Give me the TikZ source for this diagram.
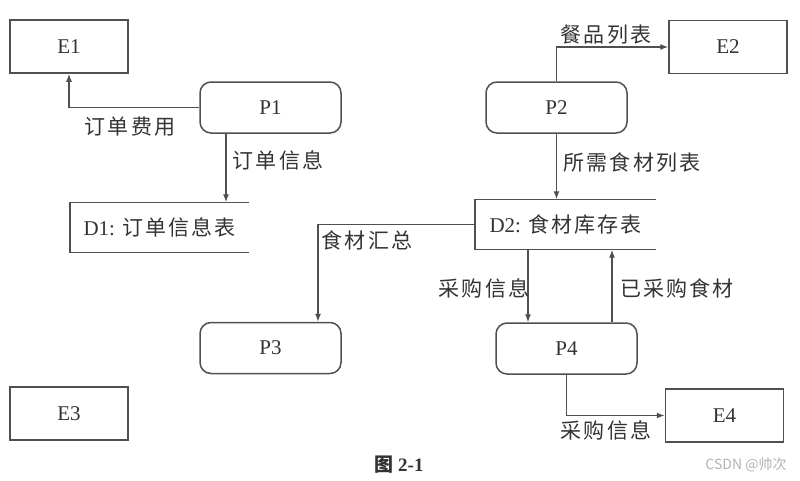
\documentclass[tikz,border=0pt]{standalone}
\usepackage{fontspec}
\setmainfont{Liberation Serif}
\newfontfamily\cjk[LetterSpace=10]{Noto Sans CJK SC}
\newfontfamily\wmfont{Noto Sans CJK SC}
\usetikzlibrary{arrows.meta}
\definecolor{ln}{HTML}{505050}
\definecolor{tx}{HTML}{333333}
\begin{document}
\begin{tikzpicture}[x=1pt,y=-1pt,
  ent/.style={draw=ln,line width=1.5pt,minimum width=118pt,minimum height=53pt,inner sep=0pt,text=tx,font=\fontsize{21}{23}\selectfont},
  proc/.style={draw=ln,line width=1.5pt,rounded corners=11pt,minimum width=141pt,minimum height=51pt,inner sep=0pt,text=tx,font=\fontsize{21}{23}\selectfont},
  store/.style={inner sep=0pt,minimum height=50pt,text=tx,font=\fontsize{21}{23}\selectfont},
  lbl/.style={inner sep=0pt,text=tx,font=\fontsize{21}{23}\selectfont\cjk},
  arr/.style={draw=ln,line width=1.3pt,-{Latex[length=8pt,width=6pt]}},
  sline/.style={draw=ln,line width=1.5pt}]
\useasboundingbox (0,0) rectangle (800,480);
% entities
\node[ent] (e1) at (69,46.5) {E1};
\node[ent] (e2) at (728,47) {E2};
\node[ent] (e3) at (69,413.5) {E3};
\node[ent] (e4) at (724.5,415.5) {E4};
% processes
\node[proc] (p1) at (270.5,107.5) {P1};
\node[proc] (p2) at (556.5,107.5) {P2};
\node[proc] (p3) at (270.5,348) {P3};
\node[proc] (p4) at (566.5,348.5) {P4};
% data stores
\node[store,minimum width=179pt] (d1) at (159.5,227.5) {D1: {\cjk 订单信息表}};
\draw[sline] (d1.north east) -- (d1.north west) -- (d1.south west) -- (d1.south east);
\node[store,minimum width=181pt] (d2) at (565.5,224.5) {D2: {\cjk 食材库存表}};
\draw[sline] (d2.north east) -- (d2.north west) -- (d2.south west) -- (d2.south east);
% connectors
\draw[arr] (p1.west) -| (e1.south);
\draw[arr] ([xshift=-44.5pt]p1.south) -- ([xshift=-44.5pt]p1.south |- d1.north);
\draw[arr] (p2.north) |- (e2.west);
\draw[arr] (p2.south) -- (p2.south |- d2.north);
\draw[arr] (d2.west) -| ([xshift=47.5pt]p3.north);
\draw[arr] ([xshift=-38.5pt]p4.north |- d2.south) -- ([xshift=-38.5pt]p4.north);
\draw[arr] ([xshift=45.5pt]p4.north) -- ([xshift=45.5pt]p4.north |- d2.south);
\draw[arr] (p4.south) |- (e4.west);
% labels
\node[lbl] (l1) at (130,127) {订单费用};
\node[lbl] (l2) at (278,160) {订单信息};
\node[lbl] (l3) at (606,35) {餐品列表};
\node[lbl] (l4) at (632,162) {所需食材列表};
\node[lbl] (l5) at (367,240) {食材汇总};
\node[lbl] (l6) at (484,288) {采购信息};
\node[lbl] (l7) at (677,288) {已采购食材};
\node[lbl] (l8) at (606,430) {采购信息};
% caption and watermark
\node[inner sep=0pt,text=tx,font=\fontsize{19}{21}\selectfont\bfseries] (cap) at (399,465) {{\wmfont\bfseries 图} 2-1};
\node[inner sep=0pt,text=black!30,font=\fontsize{14}{16}\selectfont\wmfont] (wm) at (746,465) {CSDN @帅次};
\end{tikzpicture}
\end{document}
